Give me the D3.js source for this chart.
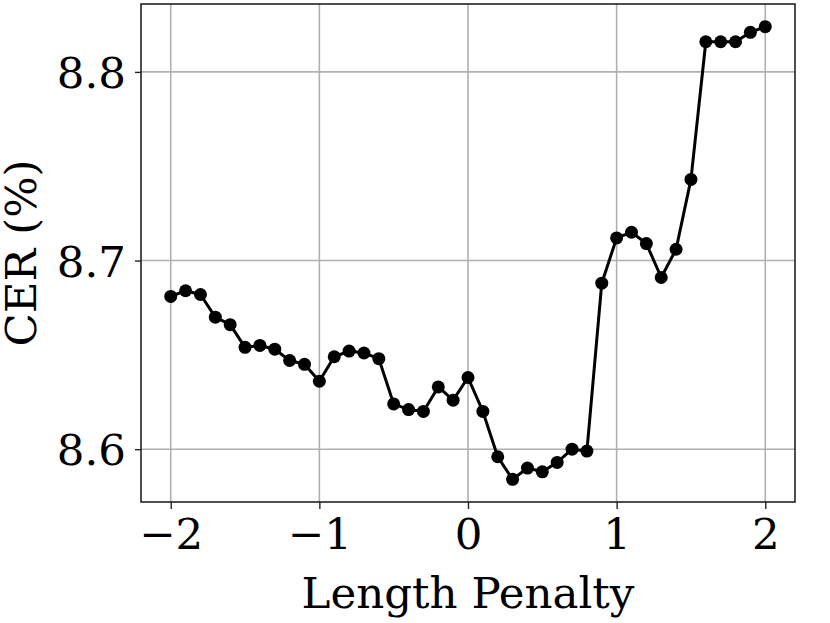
<!DOCTYPE html>
<html><head><meta charset="utf-8">
<script src="https://cdn.jsdelivr.net/npm/d3@7"></script>
<style>body{margin:0;background:#fff}svg{display:block}text{font-family:"DejaVu Serif",serif;fill:#000}</style>
</head><body>
<script>
const penalties = [-2.0,-1.9,-1.8,-1.7,-1.6,-1.5,-1.4,-1.3,-1.2,-1.1,-1.0,-0.9,-0.8,-0.7,-0.6,-0.5,-0.4,-0.3,-0.2,-0.1,0.0,0.1,0.2,0.3,0.4,0.5,0.6,0.7,0.8,0.9,1.0,1.1,1.2,1.3,1.4,1.5,1.6,1.7,1.8,1.9,2.0];
const cer = [8.681,8.684,8.682,8.670,8.666,8.654,8.655,8.653,8.647,8.645,8.636,8.649,8.652,8.651,8.648,8.624,8.621,8.620,8.633,8.626,8.638,8.620,8.596,8.584,8.590,8.588,8.593,8.600,8.599,8.688,8.712,8.715,8.709,8.691,8.706,8.743,8.816,8.816,8.816,8.821,8.824];
const xTicks = [-2,-1,0,1,2];
const yTicks = [8.6,8.7,8.8];
const xLabel = "Length Penalty";
const yLabel = "CER (%)";

const W = 830, H = 623;
const m = {left:141, right:795, top:4, bottom:502};
const FS = 43.5;
const svg = d3.select("body").append("svg").attr("width",W).attr("height",H);

const x = d3.scaleLinear().domain([-2.2,2.2]).range([m.left,m.right]);
const y = d3.scaleLinear().domain([8.572,8.836]).range([m.bottom,m.top]);

// grid
const g = svg.append("g");
g.selectAll("line.gx").data(xTicks).join("line")
  .attr("x1",d=>x(d)).attr("x2",d=>x(d)).attr("y1",m.top).attr("y2",m.bottom)
  .attr("stroke","#b0b0b0").attr("stroke-width",1.6);
g.selectAll("line.gy").data(yTicks).join("line")
  .attr("y1",d=>y(d)).attr("y2",d=>y(d)).attr("x1",m.left).attr("x2",m.right)
  .attr("stroke","#b0b0b0").attr("stroke-width",1.6);

// axes
const fmtX = d => (d<0? "\u2212"+Math.abs(d) : String(d));
const xAxis = d3.axisBottom(x).tickValues(xTicks).tickFormat(fmtX).tickSize(7).tickPadding(7);
const yAxis = d3.axisLeft(y).tickValues(yTicks).tickFormat(d3.format(".1f")).tickSize(6).tickPadding(9);
const gx = svg.append("g").attr("transform",`translate(0,${m.bottom})`).call(xAxis);
const gy = svg.append("g").attr("transform",`translate(${m.left},0)`).call(yAxis);
[gx,gy].forEach(a=>{
  a.select(".domain").remove();
  a.selectAll(".tick line").attr("stroke","#222").attr("stroke-width",1.4);
  a.selectAll(".tick text").attr("font-family","DejaVu Serif").attr("font-size",FS).attr("fill","#000");
});
gx.selectAll(".tick text").attr("dy",null).attr("y",47);
gy.selectAll(".tick text").attr("dy","0.36em");

// line and markers
const line = d3.line().x((d,i)=>x(penalties[i])).y(d=>y(d));
svg.append("path").datum(cer).attr("d",line).attr("fill","none").attr("stroke","#000").attr("stroke-width",3).attr("stroke-linejoin","round");
svg.selectAll("circle.pt").data(cer).join("circle")
  .attr("cx",(d,i)=>x(penalties[i])).attr("cy",d=>y(d)).attr("r",6.5).attr("fill","#000");

// frame
svg.append("rect").attr("x",m.left).attr("y",m.top).attr("width",m.right-m.left).attr("height",m.bottom-m.top)
  .attr("fill","none").attr("stroke","#222").attr("stroke-width",1.6);

// labels
svg.append("text").attr("x",(m.left+m.right)/2).attr("y",608).attr("text-anchor","middle").attr("font-size",FS).text(xLabel);
svg.append("text").attr("transform",`translate(36,${(m.top+m.bottom)/2}) rotate(-90)`).attr("text-anchor","middle").attr("font-size",FS).text(yLabel);
</script>
</body></html>
